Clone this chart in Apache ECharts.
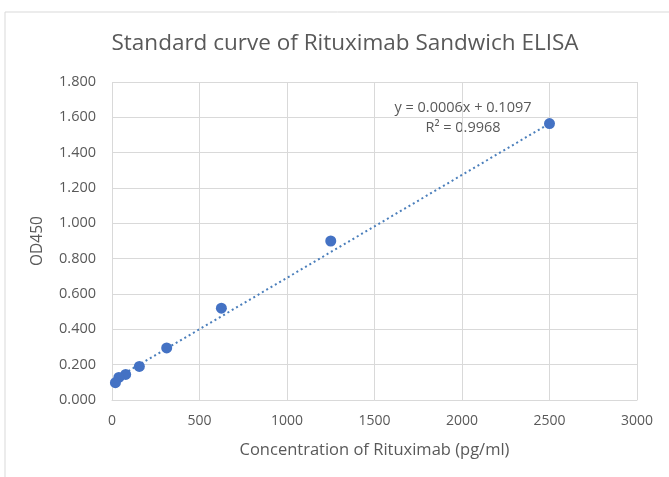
<!DOCTYPE html>
<html>
<head>
<meta charset="utf-8">
<script src="https://cdn.jsdelivr.net/npm/echarts@6/dist/echarts.min.js"></script>
<style>
  html, body { margin: 0; padding: 0; background: #fff; }
  #main { width: 669px; height: 477px; }
</style>
</head>
<body>
<div id="main"></div>
<script>
// standard points (pg/ml vs OD450)
var concentration = [2500, 1250, 625, 312.5, 156.25, 78.125, 39.06, 19.53];
var od450 = [1.565, 0.900, 0.520, 0.295, 0.190, 0.145, 0.128, 0.098];

// linear trendline end points
var trendX = [19.53, 2500];
var trendY = [0.121, 1.565];

var xTicks = [0, 500, 1000, 1500, 2000, 2500, 3000];
var yTicks = [0, 0.2, 0.4, 0.6, 0.8, 1.0, 1.2, 1.4, 1.6, 1.8];

var FONT = 'Open Sans';
var GRAY = '#595959';

var chart = echarts.init(document.getElementById('main'));

var option = {
  animation: false,
  textStyle: { fontFamily: FONT },
  title: {
    text: 'Standard curve of Rituximab Sandwich ELISA',
    left: 340,
    textAlign: 'center',
    top: 27,
    textStyle: { fontFamily: FONT, fontSize: 22.5, fontWeight: 'normal', color: GRAY }
  },
  grid: { left: 112, right: 32, top: 82, bottom: 77 },
  xAxis: {
    type: 'value',
    min: xTicks[0],
    max: xTicks[xTicks.length - 1],
    interval: 500,
    name: 'Concentration of Rituximab (pg/ml)',
    nameLocation: 'middle',
    nameGap: 42,
    nameTextStyle: { fontFamily: FONT, fontSize: 16.5, color: GRAY },
    axisLine: { show: true, lineStyle: { color: '#d9d9d9' } },
    axisTick: { show: false },
    axisLabel: {
      fontFamily: FONT, fontSize: 14, color: GRAY, margin: 14,
      formatter: function (v) { return String(v); }
    },
    splitLine: { show: true, lineStyle: { color: '#d9d9d9' } }
  },
  yAxis: {
    type: 'value',
    min: yTicks[0],
    max: yTicks[yTicks.length - 1],
    interval: 0.2,
    name: 'OD450',
    nameLocation: 'middle',
    nameGap: 66,
    nameTextStyle: { fontFamily: FONT, fontSize: 15.5, color: GRAY },
    axisLine: { show: false },
    axisTick: { show: false },
    axisLabel: {
      fontFamily: FONT, fontSize: 14.5, color: GRAY, margin: 16,
      formatter: function (v) { return v.toFixed(3); }
    },
    splitLine: { show: true, lineStyle: { color: '#d9d9d9' } }
  },
  graphic: [
    {
      type: 'rect',
      shape: { x: 5, y: 12, width: 700, height: 500 },
      style: { fill: 'none', stroke: '#d9d9d9', lineWidth: 1 },
      silent: true
    },
    {
      type: 'text',
      x: 463, y: 108,
      style: {
        text: 'y = 0.0006x + 0.1097', fontFamily: FONT, fontSize: 14.5, fill: GRAY,
        align: 'center', verticalAlign: 'middle'
      }
    },
    {
      type: 'text',
      x: 463, y: 128,
      style: {
        text: 'R² = 0.9968', fontFamily: FONT, fontSize: 14.5, fill: GRAY,
        align: 'center', verticalAlign: 'middle'
      }
    }
  ],
  series: [
    {
      type: 'line',
      data: trendX.map(function (x, i) { return [x, trendY[i]]; }),
      symbol: 'none',
      lineStyle: { color: '#4a7ebb', width: 2, type: [2, 3] },
      z: 2
    },
    {
      type: 'scatter',
      data: concentration.map(function (x, i) { return [x, od450[i]]; }),
      symbolSize: 11,
      itemStyle: { color: '#4472c4', opacity: 1 },
      z: 3
    }
  ]
};

chart.setOption(option);
</script>
</body>
</html>
